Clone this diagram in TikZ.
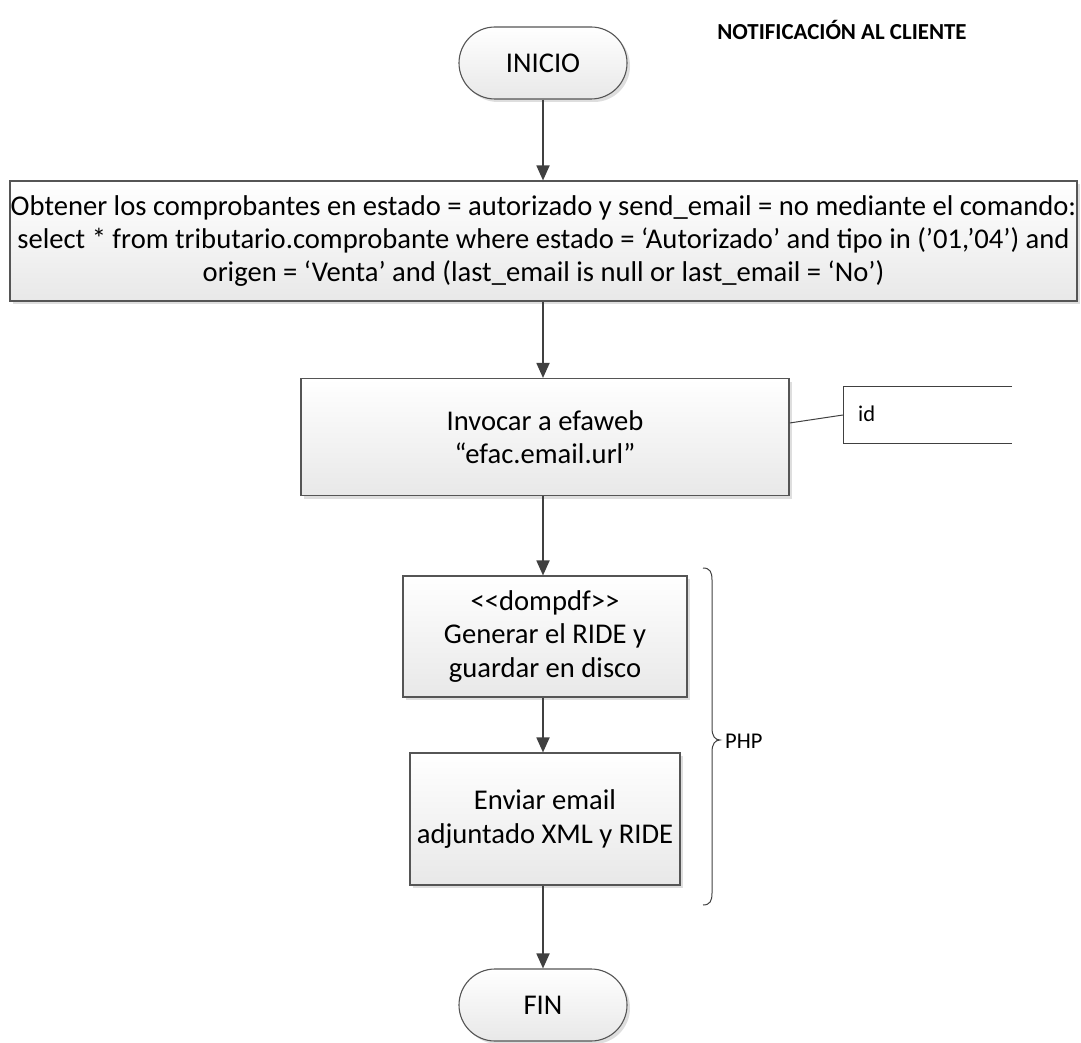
\documentclass[tikz,border=0pt]{standalone}
\usepackage{fontspec}
\setmainfont{Carlito}
\usetikzlibrary{arrows.meta,shadows}
\definecolor{edge}{HTML}{404040}
\definecolor{boxline}{HTML}{555555}
\tikzset{
  procbox/.style={draw=boxline, line width=1.1pt, top color=white, bottom color=black!9,
    drop shadow={shadow xshift=3pt, shadow yshift=-3pt, fill=black!13, opacity=1},
    align=center, inner sep=0pt, font=\fontsize{28.6}{33.3}\selectfont},
  termbox/.style={procbox, rounded corners=36pt, minimum width=168pt, minimum height=72pt},
  flow/.style={draw=edge, line width=1.8pt, -{Triangle[length=15pt,width=13pt]}},
  thinline/.style={draw=edge, line width=1pt},
  smalltext/.style={font=\fontsize{22.5}{26}\selectfont, inner sep=0pt}
}
\begin{document}
\begin{tikzpicture}[x=1pt,y=-1pt]
\useasboundingbox (0,0) rectangle (1081,1043);
\node[font=\bfseries\fontsize{22.9}{28}\selectfont] (title) at (842,30) {NOTIFICACIÓN AL CLIENTE};
\node[termbox] (inicio) at (543,63) {INICIO};
\node[procbox, minimum width=1067pt, minimum height=120pt] (obtener) at (543.5,241)
 {Obtener los comprobantes en estado = autorizado y send\_email = no mediante el comando:\\
  select * from tributario.comprobante where estado = ‘Autorizado’ and tipo in (’01,’04’) and\\
  origen = ‘Venta’ and (last\_email is null or last\_email = ‘No’)};
\node[procbox, minimum width=488pt, minimum height=117pt] (invocar) at (545,437)
 {Invocar a efaweb\\ “efac.email.url”};
\node[procbox, minimum width=284pt, minimum height=121pt] (dompdf) at (545,636.5)
 {<{}<dompdf>{}>\\ Generar el RIDE y\\ guardar en disco};
\node[procbox, minimum width=270pt, minimum height=132pt] (enviar) at (545,819)
 {Enviar email\\ adjuntado XML y RIDE};
\node[termbox] (fin) at (543,1005) {FIN};

\draw[flow] (inicio.south) -- (inicio.south |- obtener.north);
\draw[flow] (inicio.south |- obtener.south) -- (inicio.south |- invocar.north);
\draw[flow] (inicio.south |- invocar.south) -- (inicio.south |- dompdf.north);
\draw[flow] (inicio.south |- dompdf.south) -- (inicio.south |- enviar.north);
\draw[flow] (inicio.south |- enviar.south) -- (fin.north);

% annotation "id"
\coordinate (idtop) at (1012,386);
\coordinate (idbot) at (1012,443);
\coordinate (idanchor) at (843,415);
\draw[thinline] (idtop) -- (843,386) -- (843,443) -- (idbot);
\draw[thinline] (invocar.east |- 0,423) -- (idanchor);
\node[smalltext, anchor=west] (idlabel) at (858,414) {id};

% brace PHP
\draw[draw=edge, line width=1pt] (703,568) .. controls (710,568) and (712,572) .. (712,580)
  -- (712,728) .. controls (712,736) and (715,740) .. (720,740)
  .. controls (715,740) and (712,744) .. (712,752)
  -- (712,893) .. controls (712,901) and (710,905) .. (703,905);
\node[smalltext, anchor=west] (php) at (725,741) {PHP};
\end{tikzpicture}
\end{document}
